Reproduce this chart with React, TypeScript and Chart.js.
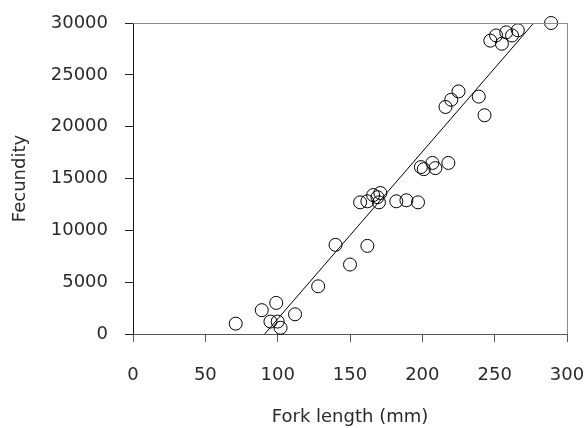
import React, { useEffect, useRef } from "react";
import { Chart, registerables } from "chart.js";

Chart.register(...registerables);

const forkLength = [71, 89, 99, 95, 100, 102, 112, 128, 140, 150, 162, 157, 162, 166, 171, 170, 169, 182, 189, 197, 199, 201, 207, 209, 218, 216, 220, 225, 239, 243, 247, 251, 255, 258, 262, 266, 289];
const fecundity = [1000, 2300, 3000, 1200, 1200, 600, 1900, 4600, 8600, 6700, 8500, 12700, 12800, 13400, 13600, 12700, 13200, 12800, 12900, 12700, 16100, 15900, 16500, 16000, 16500, 21900, 22600, 23400, 22900, 21100, 28300, 28800, 28000, 29100, 28800, 29300, 30000];

const fitLineX = [91, 277];
const fitLineY = [0, 30000];

const xTitle = "Fork length (mm)";
const yTitle = "Fecundity";

const FONT = "'DejaVu Sans', sans-serif";
const TEXT = "#2a2a2a";

const framePlugin = {
  id: "frame",
  afterDraw(chart: any) {
    const { ctx, chartArea } = chart;
    ctx.save();
    ctx.strokeStyle = "#8a8a8a";
    ctx.lineWidth = 1;
    ctx.beginPath();
    ctx.moveTo(chartArea.left, chartArea.top + 0.5);
    ctx.lineTo(chartArea.right + 0.5, chartArea.top + 0.5);
    ctx.lineTo(chartArea.right + 0.5, chartArea.bottom);
    ctx.stroke();
    ctx.restore();
  },
};

export default function App() {
  const ref = useRef<HTMLCanvasElement>(null);
  useEffect(() => {
    const canvas = ref.current!;
    const chart = new Chart(canvas, {
      type: "scatter",
      data: {
        datasets: [
          {
            type: "line",
            data: fitLineX.map((x, i) => ({ x, y: fitLineY[i] })),
            borderColor: "#000",
            borderWidth: 1,
            pointRadius: 0,
            fill: false,
            order: 2,
          } as any,
          {
            data: forkLength.map((x, i) => ({ x, y: fecundity[i] })),
            pointRadius: 6.5,
            pointHoverRadius: 6.5,
            pointBorderWidth: 1,
            borderColor: "#000",
            backgroundColor: "rgba(0,0,0,0)",
            pointStyle: "circle",
            clip: false,
            order: 1,
          } as any,
        ],
      },
      options: {
        animation: false,
        responsive: false,
        layout: { padding: { top: 23, right: 21, bottom: 0, left: 0 } },
        plugins: { legend: { display: false }, tooltip: { enabled: false } },
        scales: {
          x: {
            type: "linear",
            min: 0,
            max: 300,
            ticks: { stepSize: 50, padding: 23, color: TEXT, font: { family: FONT, size: 18 }, callback: (v: any) => String(v) },
            grid: { display: true, drawOnChartArea: false, drawTicks: true, tickLength: 8, tickColor: "#555" },
            border: { display: true, color: "#555", width: 1 },
            title: { display: true, text: xTitle, color: TEXT, font: { family: FONT, size: 18 }, padding: { top: 0, bottom: 0 } },
            afterFit: (s: any) => { s.height = 94; s.paddingLeft = 0; s.paddingRight = 0; },
          },
          y: {
            type: "linear",
            min: 0,
            max: 30000,
            ticks: { stepSize: 5000, padding: 17, color: TEXT, font: { family: FONT, size: 18 }, callback: (v: any) => String(v) },
            grid: { display: true, drawOnChartArea: false, drawTicks: true, tickLength: 8, tickColor: "#222" },
            border: { display: true, color: "#111", width: 1 },
            title: { display: true, text: yTitle, color: TEXT, font: { family: FONT, size: 18 }, padding: { top: 10, bottom: 0 } },
            afterFit: (s: any) => { s.width = 133; s.paddingTop = 0; s.paddingBottom = 0; },
          },
        },
      },
      plugins: [framePlugin],
    });
    return () => chart.destroy();
  }, []);
  return (
    <div style={{ position: "absolute", left: 0, top: 0, width: 588, height: 428, background: "#fff" }}>
      <canvas ref={ref} width={588} height={428} />
    </div>
  );
}
